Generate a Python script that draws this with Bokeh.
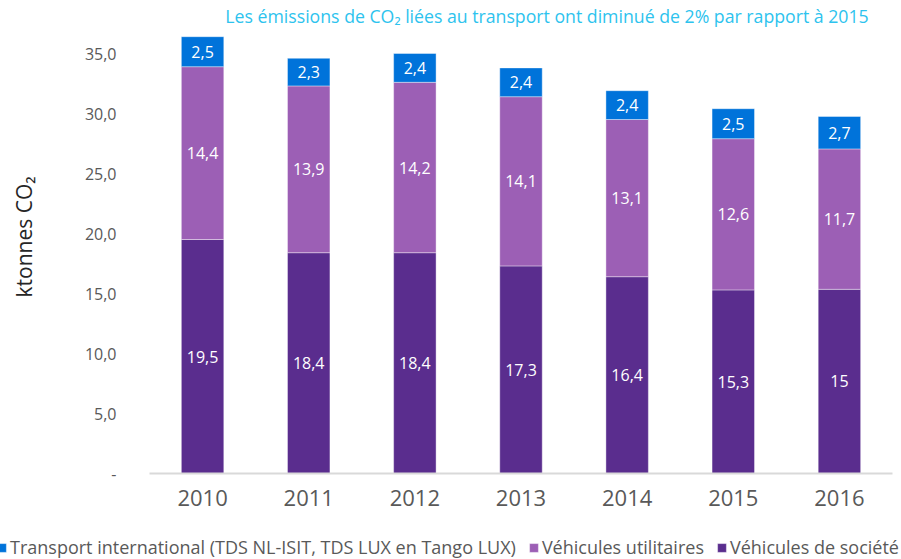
from bokeh.plotting import figure
from bokeh.models import (ColumnDataSource, FactorRange, Range1d, FixedTicker,
                          LabelSet, Label, Legend, LegendItem)
from bokeh.core.properties import value
from bokeh.embed import file_html
from bokeh.resources import INLINE

FONT = "Open Sans"

years = ["2010", "2011", "2012", "2013", "2014", "2015", "2016"]
societe = [19.5, 18.4, 18.4, 17.3, 16.4, 15.3, 15.35]
utilitaires = [14.4, 13.9, 14.2, 14.1, 13.1, 12.6, 11.7]
international = [2.5, 2.3, 2.4, 2.4, 2.4, 2.5, 2.7]
societe_labels = ["19,5", "18,4", "18,4", "17,3", "16,4", "15,3", "15"]
y_ticks = [0, 5, 10, 15, 20, 25, 30, 35]
y_tick_labels = ["-", "5,0", "10,0", "15,0", "20,0", "25,0", "30,0", "35,0"]
series_names = ["Véhicules de société", "Véhicules utilitaires",
                "Transport international (TDS NL-ISIT, TDS LUX en Tango LUX)"]
title_text = "Les émissions de CO₂ liées au transport ont diminué de 2% par rapport à 2015"

C_DARK = "#5a2d8e"
C_LIGHT = "#9c5fb5"
C_BLUE = "#0073da"
COLORS = [C_DARK, C_LIGHT, C_BLUE]
STACK = ["societe", "utilitaires", "international"]


def fmt(v):
    return f"{v:.1f}".replace(".", ",")


src = ColumnDataSource(dict(
    year=years,
    societe=societe,
    utilitaires=utilitaires,
    international=international,
    y_soc=[s / 2 for s in societe],
    y_util=[s + u / 2 for s, u in zip(societe, utilitaires)],
    y_int=[s + u + i / 2 for s, u, i in zip(societe, utilitaires, international)],
    l_soc=societe_labels,
    l_util=[fmt(v) for v in utilitaires],
    l_int=[fmt(v) for v in international],
))

p = figure(width=901, height=530,
           x_range=FactorRange(*years, range_padding=0),
           y_range=Range1d(0, 473 / 12),
           output_backend="svg", toolbar_location=None,
           min_border_left=149, min_border_right=9,
           min_border_top=0, min_border_bottom=57)
p.outline_line_color = None
p.xgrid.grid_line_color = None
p.ygrid.grid_line_color = None

rs = p.vbar_stack(STACK, x="year", width=0.4, source=src, fill_color=COLORS,
                  line_color="white", line_alpha=0.4, line_width=1)

for ycol, lcol in [("y_soc", "l_soc"), ("y_util", "l_util"), ("y_int", "l_int")]:
    p.add_layout(LabelSet(x="year", y=ycol, text=lcol, source=src,
                          text_align="center", text_baseline="middle",
                          text_color="white", text_font=value(FONT),
                          text_font_size="16px"))

# y axis
ya = p.yaxis[0]
ya.ticker = FixedTicker(ticks=y_ticks)
ya.major_label_overrides = {t: l for t, l in zip(y_ticks, y_tick_labels)}
ya.axis_line_color = None
ya.major_tick_line_color = None
ya.minor_tick_line_color = None
ya.major_tick_out = 0
ya.major_tick_in = 0
ya.major_label_standoff = 33
ya.major_label_text_font = FONT
ya.major_label_text_font_size = "16px"
ya.major_label_text_color = "#595959"
ya.axis_label = "ktonnes CO₂"
ya.axis_label_text_font = FONT
ya.axis_label_text_font_size = "21px"
ya.axis_label_text_font_style = "normal"
ya.axis_label_text_color = "#262626"
ya.axis_label_standoff = 44

# x axis
xa = p.xaxis[0]
xa.axis_line_color = "#d9d9d9"
xa.axis_line_width = 2
xa.major_tick_line_color = None
xa.minor_tick_line_color = None
xa.major_tick_out = 0
xa.major_tick_in = 0
xa.major_label_standoff = 16
xa.major_label_text_font = FONT
xa.major_label_text_font_size = "22px"
xa.major_label_text_color = "#595959"

# title (inside the chart area, top right)
p.add_layout(Label(x=3.745, y=(473 - 15) / 12, text=title_text,
                   text_align="center", text_baseline="middle",
                   text_color="#2dc3ee", text_font=FONT,
                   text_font_size="17.7px"))

# legend strip below the chart (same series, bars hidden, only swatches shown)
lf = figure(width=901, height=29,
            x_range=FactorRange(*years, range_padding=0), y_range=Range1d(0, 1),
            output_backend="svg", toolbar_location=None, min_border=0,
            min_border_left=0, min_border_right=0, min_border_top=0,
            min_border_bottom=0, x_axis_location=None, y_axis_location=None)
lf.outline_line_color = None
lf.xgrid.visible = False
lf.ygrid.visible = False
swatches = lf.vbar_stack(STACK, x="year", width=0.4, source=src,
                         fill_color=COLORS, line_color="white", line_alpha=0.4)
for r in swatches:
    r.visible = False

legend = Legend(items=[
    LegendItem(label=series_names[2], renderers=[swatches[2]]),
    LegendItem(label=series_names[1], renderers=[swatches[1]]),
    LegendItem(label=series_names[0], renderers=[swatches[0]]),
], orientation="horizontal", location=(-4, 0),
    glyph_width=11, glyph_height=11, label_standoff=3, spacing=12,
    padding=0, margin=0, border_line_color=None, background_fill_alpha=0,
    label_text_font=FONT, label_text_font_size="18px",
    label_text_color="#595959")
lf.add_layout(legend)

open("out.html", "w").write(file_html([p, lf], INLINE))
